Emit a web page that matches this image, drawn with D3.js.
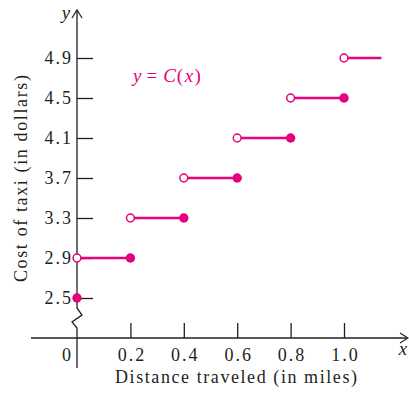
<!DOCTYPE html>
<html><head><meta charset="utf-8">
<script src="https://cdn.jsdelivr.net/npm/d3@7/dist/d3.min.js"></script>
<style>body{margin:0;background:#fff}svg{display:block}</style>
</head><body>
<svg id="c" width="409" height="395"></svg>
<script>
// data
const stepStart = [0, 0.2, 0.4, 0.6, 0.8, 1.0];
const stepEnd   = [0.2, 0.4, 0.6, 0.8, 1.0, 1.14];
const stepCost  = [2.9, 3.3, 3.7, 4.1, 4.5, 4.9];
const endClosed = [true, true, true, true, true, false];
const startPoint = {x: 0, y: 2.5};
const xTicks = [0, 0.2, 0.4, 0.6, 0.8, 1.0];
const xTickLabels = ["0", "0.2", "0.4", "0.6", "0.8", "1.0"];
const yTicks = [2.5, 2.9, 3.3, 3.7, 4.1, 4.5, 4.9];
const yTickLabels = ["2.5", "2.9", "3.3", "3.7", "4.1", "4.5", "4.9"];

const pink = "#e5007d", ink = "#231f20";
const font = "'Liberation Serif', 'DejaVu Serif', serif";
const svg = d3.select("#c");
const x = d3.scaleLinear().domain([0, 1.2]).range([77, 397.4]);
const y = d3.scaleLinear().domain([2.5, 4.9]).range([298, 58]);
const x0 = x(0), yAx = 338;

// y axis ticks
const gy = svg.append("g").attr("transform", `translate(${x0},0)`)
  .call(d3.axisLeft(y).tickValues(yTicks).tickFormat((d,i)=>yTickLabels[i])
    .tickSizeInner(-16).tickSizeOuter(0).tickPadding(4));
gy.select(".domain").remove();
gy.selectAll(".tick line").attr("stroke", ink).attr("stroke-width", 1.3);
gy.selectAll(".tick text").attr("fill", ink).style("font-family", font)
  .style("font-size", "18px").style("letter-spacing", "2px");

// x axis ticks
const gx = svg.append("g").attr("transform", `translate(0,${yAx})`)
  .call(d3.axisBottom(x).tickValues(xTicks).tickFormat((d,i)=>xTickLabels[i])
    .tickSizeInner(-15).tickSizeOuter(0).tickPadding(10));
gx.select(".domain").remove();
gx.selectAll(".tick line").attr("stroke", ink).attr("stroke-width", 1.3)
  .filter(d => d === 0).remove();
gx.selectAll(".tick text").attr("fill", ink).style("font-family", font)
  .style("font-size", "18px").style("letter-spacing", "2px").attr("x", 1)
  .filter(d => d === 0).attr("x", -10);

// axis lines
svg.append("line").attr("x1", 31).attr("x2", 407).attr("y1", yAx).attr("y2", yAx)
  .attr("stroke", ink).attr("stroke-width", 1.3);
svg.append("path").attr("d", `M400,${yAx-5} L408,${yAx} L400,${yAx+5}`)
  .attr("fill", "none").attr("stroke", ink).attr("stroke-width", 1.2);
svg.append("path")
  .attr("d", `M${x0},368 L${x0},328 L${x0-5},322 L${x0+5},315 L${x0},308 L${x0},10`)
  .attr("fill", "none").attr("stroke", ink).attr("stroke-width", 1.3);
svg.append("path").attr("d", `M${x0-5},18 L${x0},10 L${x0+5},18`)
  .attr("fill", "none").attr("stroke", ink).attr("stroke-width", 1.2);

// axis letters
svg.append("text").attr("x", 403).attr("y", 355).attr("text-anchor", "middle")
  .style("font-family", font).style("font-style", "italic").style("font-size", "19px").attr("fill", ink).text("x");
svg.append("text").attr("x", 66).attr("y", 19).attr("text-anchor", "middle")
  .style("font-family", font).style("font-style", "italic").style("font-size", "19px").attr("fill", ink).text("y");

// titles
svg.append("text").attr("x", 115).attr("y", 383)
  .attr("textLength", 242).attr("lengthAdjust", "spacing")
  .style("font-family", font).style("font-size", "18px").attr("fill", ink).text("Distance traveled (in miles)");
svg.append("text").attr("transform", "translate(27,282) rotate(-90)")
  .attr("textLength", 207).attr("lengthAdjust", "spacing")
  .style("font-family", font).style("font-size", "18px").attr("fill", ink).text("Cost of taxi (in dollars)");

// function label
const lab = svg.append("text").attr("x", 133).attr("y", 82)
  .style("font-family", font).style("font-size", "19px").attr("fill", pink);
lab.append("tspan").style("font-style", "italic").text("y");
lab.append("tspan").attr("dx", 5).text("=");
lab.append("tspan").attr("dx", 6).style("font-style", "italic").text("C");
lab.append("tspan").attr("dx", 1).style("letter-spacing", "1.5px").text("(");
lab.append("tspan").style("font-style", "italic").style("letter-spacing", "1.5px").text("x");
lab.append("tspan").text(")");

// steps
const steps = stepStart.map((s, i) => ({s, e: stepEnd[i], c: stepCost[i], closed: endClosed[i]}));
svg.append("g").selectAll("line").data(steps).join("line")
  .attr("x1", d => x(d.s)).attr("x2", d => x(d.e))
  .attr("y1", d => y(d.c)).attr("y2", d => y(d.c))
  .attr("stroke", pink).attr("stroke-width", 2.6);
svg.append("g").selectAll("circle").data(steps.filter(d => d.closed)).join("circle")
  .attr("cx", d => x(d.e)).attr("cy", d => y(d.c)).attr("r", 4.7).attr("fill", pink);
svg.append("g").selectAll("circle").data(steps).join("circle")
  .attr("cx", d => x(d.s)).attr("cy", d => y(d.c)).attr("r", 3.9)
  .attr("fill", "#fff").attr("stroke", pink).attr("stroke-width", 1.5);
svg.append("circle").attr("cx", x(startPoint.x)).attr("cy", y(startPoint.y)).attr("r", 4.7).attr("fill", pink);
</script>
</body></html>
